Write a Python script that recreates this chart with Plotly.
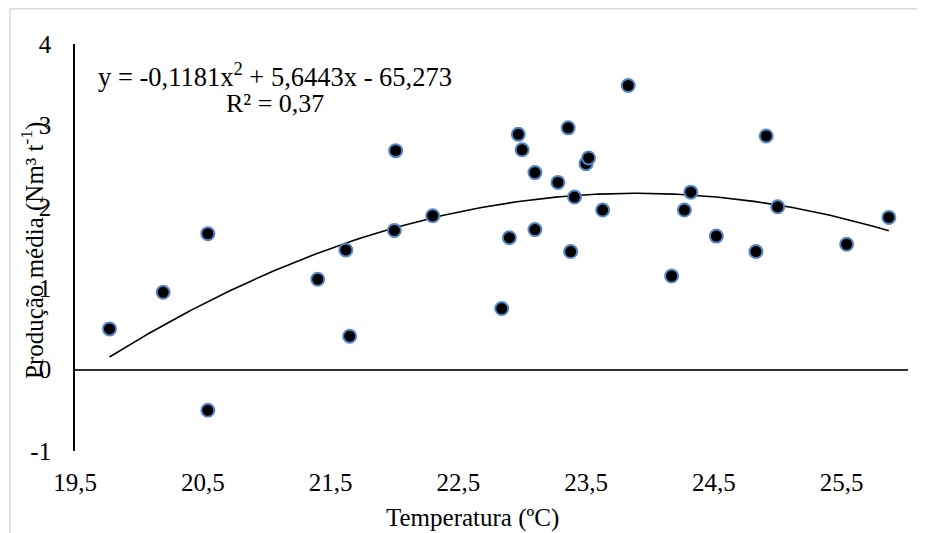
import numpy as np
import plotly.graph_objects as go

# ---- data ----
temperatura = [19.77, 20.19, 20.54, 20.54, 21.40, 21.62, 21.65, 22.01, 22.00, 22.30,
               22.84, 22.90, 22.97, 23.00, 23.10, 23.10, 23.28, 23.36, 23.38, 23.41,
               23.50, 23.52, 23.63, 23.83, 24.17, 24.27, 24.32, 24.52, 24.83, 24.91,
               25.00, 25.54, 25.87]
producao = [0.50, 0.95, 1.67, -0.50, 1.11, 1.47, 0.41, 2.69, 1.71, 1.89,
            0.75, 1.62, 2.89, 2.70, 2.42, 1.72, 2.30, 2.97, 1.45, 2.12,
            2.53, 2.60, 1.96, 3.49, 1.15, 1.96, 2.18, 1.64, 1.45, 2.87,
            2.00, 1.54, 1.87]

# trendline coefficients (as printed on the chart)
coef_a, coef_b, coef_c = -0.1181, 5.6443, -65.273

x_tick_vals = [19.5, 20.5, 21.5, 22.5, 23.5, 24.5, 25.5]
x_tick_text = ["19,5", "20,5", "21,5", "22,5", "23,5", "24,5", "25,5"]
y_tick_vals = [-1, 0, 1, 2, 3, 4]
y_tick_text = ["-1", "0", "1", "2", "3", "4"]

equation_text = "y = -0,1181x<sup>2</sup> + 5,6443x - 65,273"
r2_text = "R² = 0,37"
x_title = "Temperatura (ºC)"
y_title = "Produção média (Nm³ t<sup>-1</sup>)"

# ---- layout geometry (page body adds an 8px offset) ----
OFF = 8
W, H = 925 - OFF, 533 - OFF
ML, MT = 75 - OFF, 44 - OFF
PLOT_RIGHT, PLOT_BOTTOM = 908 - OFF, 451 - OFF
MR, MB = W - PLOT_RIGHT, H - PLOT_BOTTOM
PW, PH = W - ML - MR, H - MT - MB


def px(xp):
    # xp in window pixels
    return (xp - OFF - ML) / PW


def py(yp):
    # yp in window pixels
    return (H - MB - (yp - OFF)) / PH


FONT = "Liberation Serif, Times New Roman, serif"

fig = go.Figure()

xs = np.linspace(min(temperatura), max(temperatura), 200)
ys = coef_a * xs ** 2 + coef_b * xs + coef_c
fig.add_trace(go.Scatter(x=xs, y=ys, mode="lines",
                         line=dict(color="black", width=1.6),
                         hoverinfo="skip", showlegend=False))

fig.add_trace(go.Scatter(x=temperatura, y=producao, mode="markers",
                         marker=dict(size=13, color="black",
                                     line=dict(color="#5585c5", width=2)),
                         showlegend=False))

fig.update_layout(
    width=W, height=H,
    margin=dict(l=ML, r=MR, t=MT, b=MB, pad=0, autoexpand=False),
    paper_bgcolor="white", plot_bgcolor="white",
    font=dict(family=FONT, size=25, color="black"),
    xaxis=dict(range=[19.5, 26.02], tickmode="array",
               tickvals=x_tick_vals, ticktext=x_tick_text,
               showgrid=False, zeroline=False, showline=False, ticks="",
               ticklabelstandoff=14, automargin=False,
               tickfont=dict(family=FONT, size=25, color="black")),
    yaxis=dict(range=[-1, 4], tickmode="array",
               tickvals=y_tick_vals, ticktext=y_tick_text,
               showgrid=False, zeroline=True, zerolinecolor="#333333",
               zerolinewidth=1.6, automargin=False,
               showline=True, linecolor="black", linewidth=1.6, ticks="",
               ticklabelstandoff=17,
               tickfont=dict(family=FONT, size=25, color="black")),
    annotations=[
        dict(text=equation_text, x=px(275), y=py(75), xref="paper", yref="paper",
             showarrow=False, xanchor="center", yanchor="middle",
             font=dict(family=FONT, size=26.5, color="black")),
        dict(text=r2_text, x=px(275), y=py(103), xref="paper", yref="paper",
             showarrow=False, xanchor="center", yanchor="middle",
             font=dict(family=FONT, size=26, color="black")),
        dict(text=x_title, x=px(472), y=py(518), xref="paper", yref="paper",
             showarrow=False, xanchor="center", yanchor="middle",
             font=dict(family=FONT, size=25, color="black")),
        dict(text=y_title, x=px(33), y=py(251), xref="paper", yref="paper",
             showarrow=False, xanchor="center", yanchor="middle", textangle=-90,
             font=dict(family=FONT, size=25, color="black")),
    ],
    shapes=[
        dict(type="line", xref="paper", yref="paper",
             x0=px(10), x1=px(10), y0=py(OFF + 0.75), y1=py(533),
             line=dict(color="#d9d9d9", width=1.5)),
        dict(type="line", xref="paper", yref="paper",
             x0=px(10), x1=px(925), y0=py(OFF + 0.75), y1=py(OFF + 0.75),
             line=dict(color="#d9d9d9", width=1.5)),
    ],
)

fig.write_html("out.html")
